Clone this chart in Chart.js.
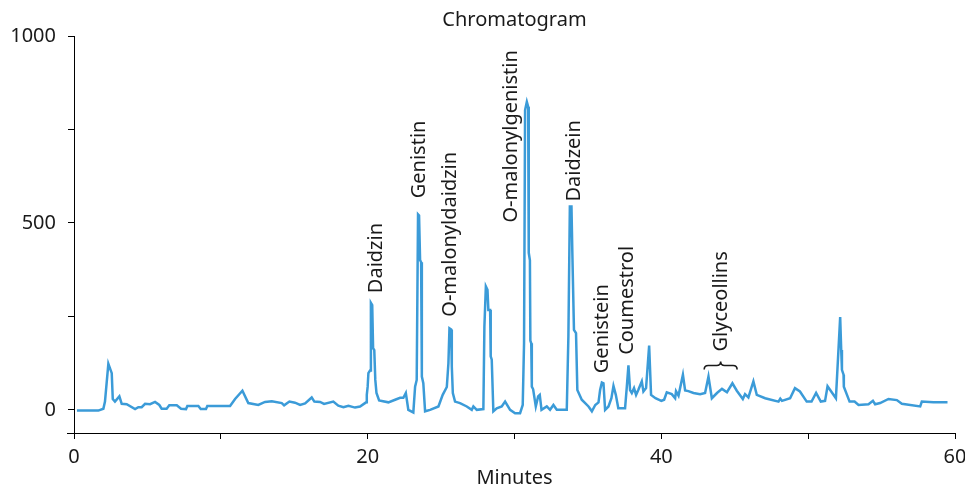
<!DOCTYPE html>
<html>
<head>
<meta charset="utf-8">
<script src="https://cdn.jsdelivr.net/npm/chart.js@4/dist/chart.umd.min.js"></script>
<style>
html,body{margin:0;padding:0;background:#fff;}
#wrap{width:965px;height:486px;}
</style>
</head>
<body>
<div id="wrap"><canvas id="c" width="965" height="486"></canvas></div>
<script>
// ---- data ----
const times = [0.2,1.66,2.0,2.11,2.34,2.57,2.64,2.79,3.09,3.25,3.59,4.16,4.38,4.61,4.84,5.18,5.52,5.81,5.97,6.31,6.49,7.0,7.29,7.63,7.72,8.47,8.63,8.99,9.08,10.63,10.97,11.47,11.87,12.55,13.01,13.47,14.15,14.31,14.67,15.05,15.4,15.74,16.19,16.37,16.76,17.03,17.66,18.0,18.35,18.69,19.14,19.48,19.89,19.94,20.0,20.05,20.16,20.22,20.31,20.37,20.45,20.52,20.6,20.78,21.41,21.87,22.21,22.43,22.6,22.77,23.11,23.23,23.34,23.43,23.5,23.57,23.64,23.69,23.79,23.91,24.25,24.82,25.11,25.39,25.5,25.57,25.68,25.73,25.8,25.95,26.29,26.75,27.09,27.2,27.43,27.88,27.95,28.05,28.16,28.22,28.34,28.38,28.45,28.56,28.79,29.13,29.36,29.7,30.04,30.38,30.56,30.65,30.72,30.84,30.93,30.97,31.05,31.08,31.14,31.18,31.27,31.45,31.61,31.72,31.84,32.2,32.42,32.65,32.88,33.56,33.67,33.77,33.88,33.94,34.05,34.19,34.28,34.58,35.04,35.27,35.5,35.72,35.83,35.95,36.06,36.17,36.4,36.6,36.74,36.9,37.07,37.53,37.65,37.76,37.87,37.99,38.14,38.28,38.43,38.67,38.78,38.96,39.17,39.3,39.6,40.0,40.19,40.37,40.71,40.94,41.0,41.17,41.47,41.62,41.84,42.19,42.64,42.98,43.21,43.44,43.79,44.13,44.47,44.84,45.14,45.55,45.7,45.93,46.27,46.5,47.07,47.98,48.1,48.22,48.77,49.1,49.44,49.9,50.23,50.54,50.86,51.15,51.32,51.89,52.18,52.25,52.3,52.41,52.43,52.82,53.16,53.43,54.11,54.41,54.56,54.9,55.47,56.04,56.38,57.63,57.74,58.53,59.49];
const signal = [-2,-2,3,22,123,98,29,22,36,16,15,2,7,7,16,15,21,13,3,3,12,12,3,2,10,10,2,2,10,10,29,51,18,13,21,23,18,12,22,19,13,17,33,22,21,16,22,11,7,11,6,9,20,40,62,98,105,286,280,165,160,80,45,25,20,27,32,32,45,0,-7,62,80,523,520,401,395,89,71,-4,0,9,40,61,125,218,215,116,45,22,18,9,0,9,0,2,223,330,321,267,267,143,134,-4,4,9,22,0,-9,-9,13,178,802,824,811,420,400,185,178,62,55,9,36,40,0,9,0,13,0,0,196,544,544,419,214,205,53,27,9,-4,13,20,53,73,71,0,9,31,64,40,4,4,62,119,53,45,58,40,53,76,49,58,172,40,31,24,27,47,42,31,50,38,94,52,50,45,42,45,89,31,45,56,47,71,51,29,42,33,76,40,31,22,30,24,31,58,49,22,22,45,22,24,63,31,248,160,107,94,62,22,22,13,15,24,15,18,29,26,16,9,22,20,20];

const peakNames = ["Daidzin","Genistin","O-malonyldaidzin","O-malonylgenistin","Daidzein","Genistein","Coumestrol","Glyceollins"];
const labelTimes = [20.96,23.91,26.0,30.16,34.47,36.36,38.06,44.46];
const labelValues = [312,566,249,501,557,98,147,156];
const braceRange = [42.92,45.16];
const braceValue = 108;

const chartTitle = 'Chromatogram';
const xTitle = 'Minutes';
const xTicks = [0,10,20,30,40,50,60];
const xLabelled = [0,20,40,60];
const yTicks = [0,250,500,750,1000];
const yLabelled = [0,500,1000];

const FONT = "'Noto Sans', 'DejaVu Sans', sans-serif";
const INK = '#1a1a1a';
const LINE = '#3b9bd8';

const points = times.map((t,i)=>({x:t,y:signal[i]}));

const annot = {
  id:'annot',
  afterDatasetsDraw(chart){
    const ctx = chart.ctx, xs = chart.scales.x, ys = chart.scales.y;
    const ca = chart.chartArea;
    ctx.save();
    ctx.fillStyle = INK;
    ctx.font = '20px ' + FONT;
    ctx.textAlign = 'center';
    ctx.textBaseline = 'middle';
    ctx.fillText(chartTitle, (ca.left+ca.right)/2, 20);
    ctx.textAlign = 'left';
    ctx.textBaseline = 'alphabetic';
    peakNames.forEach((n,i)=>{
      const px = xs.getPixelForValue(labelTimes[i]);
      const py = ys.getPixelForValue(labelValues[i]);
      ctx.save();
      ctx.translate(px,py);
      ctx.rotate(-Math.PI/2);
      ctx.fillText(n,0,0);
      ctx.restore();
    });
    const x0 = xs.getPixelForValue(braceRange[0]);
    const x1 = xs.getPixelForValue(braceRange[1]);
    const yb = ys.getPixelForValue(braceValue);
    const xm = (x0+x1)/2;
    ctx.strokeStyle = INK;
    ctx.lineWidth = 1.6;
    ctx.beginPath();
    ctx.moveTo(x0, yb);
    ctx.quadraticCurveTo(x0, yb-4, x0+4, yb-4);
    ctx.lineTo(xm-4, yb-4);
    ctx.quadraticCurveTo(xm, yb-4, xm, yb-8);
    ctx.quadraticCurveTo(xm, yb-4, xm+4, yb-4);
    ctx.lineTo(x1-4, yb-4);
    ctx.quadraticCurveTo(x1, yb-4, x1, yb);
    ctx.stroke();
    ctx.strokeStyle = '#000';
    ctx.lineWidth = 1;
    ctx.beginPath();
    ctx.moveTo(ca.left-7, Math.round(ca.bottom)+0.5);
    ctx.lineTo(ca.left, Math.round(ca.bottom)+0.5);
    ctx.stroke();
    ctx.restore();
  }
};

new Chart(document.getElementById('c'), {
  type:'line',
  data:{datasets:[{data:points,borderColor:LINE,borderWidth:2.5,pointRadius:0,tension:0,fill:false}]},
  options:{
    responsive:false,
    animation:false,
    devicePixelRatio:1,
    layout:{padding:{left:0,right:10,top:36,bottom:0}},
    plugins:{
      legend:{display:false},
      tooltip:{enabled:false},
      title:{display:false}
    },
    scales:{
      x:{
        type:'linear',min:0,max:60,
        afterBuildTicks(s){s.ticks = xTicks.map(v=>({value:v}));},
        afterFit(s){s.height = 53; s.paddingLeft = 0; s.paddingRight = 0;},
        ticks:{color:INK,font:{family:FONT,size:20},padding:6,maxRotation:0,autoSkip:false,
          callback:(v)=>xLabelled.includes(v)?String(v):''},
        grid:{drawOnChartArea:false,drawTicks:true,tickLength:6,color:'#000',lineWidth:1},
        border:{display:true,color:'#000',width:1},
        title:{display:true,text:xTitle,color:INK,font:{family:FONT,size:20,lineHeight:0.8},padding:{top:0,bottom:0}}
      },
      y:{
        type:'linear',min:-62,max:1000,
        afterBuildTicks(s){s.ticks = yTicks.map(v=>({value:v}));},
        afterFit(s){s.width = 74; s.paddingTop = 0; s.paddingBottom = 0;},
        ticks:{color:INK,font:{family:FONT,size:20},padding:12,autoSkip:false,
          callback:(v)=>yLabelled.includes(v)?String(v):''},
        grid:{drawOnChartArea:false,drawTicks:true,tickLength:6,color:'#000',lineWidth:1},
        border:{display:true,color:'#000',width:1}
      }
    }
  },
  plugins:[annot]
});
</script>
</body>
</html>
